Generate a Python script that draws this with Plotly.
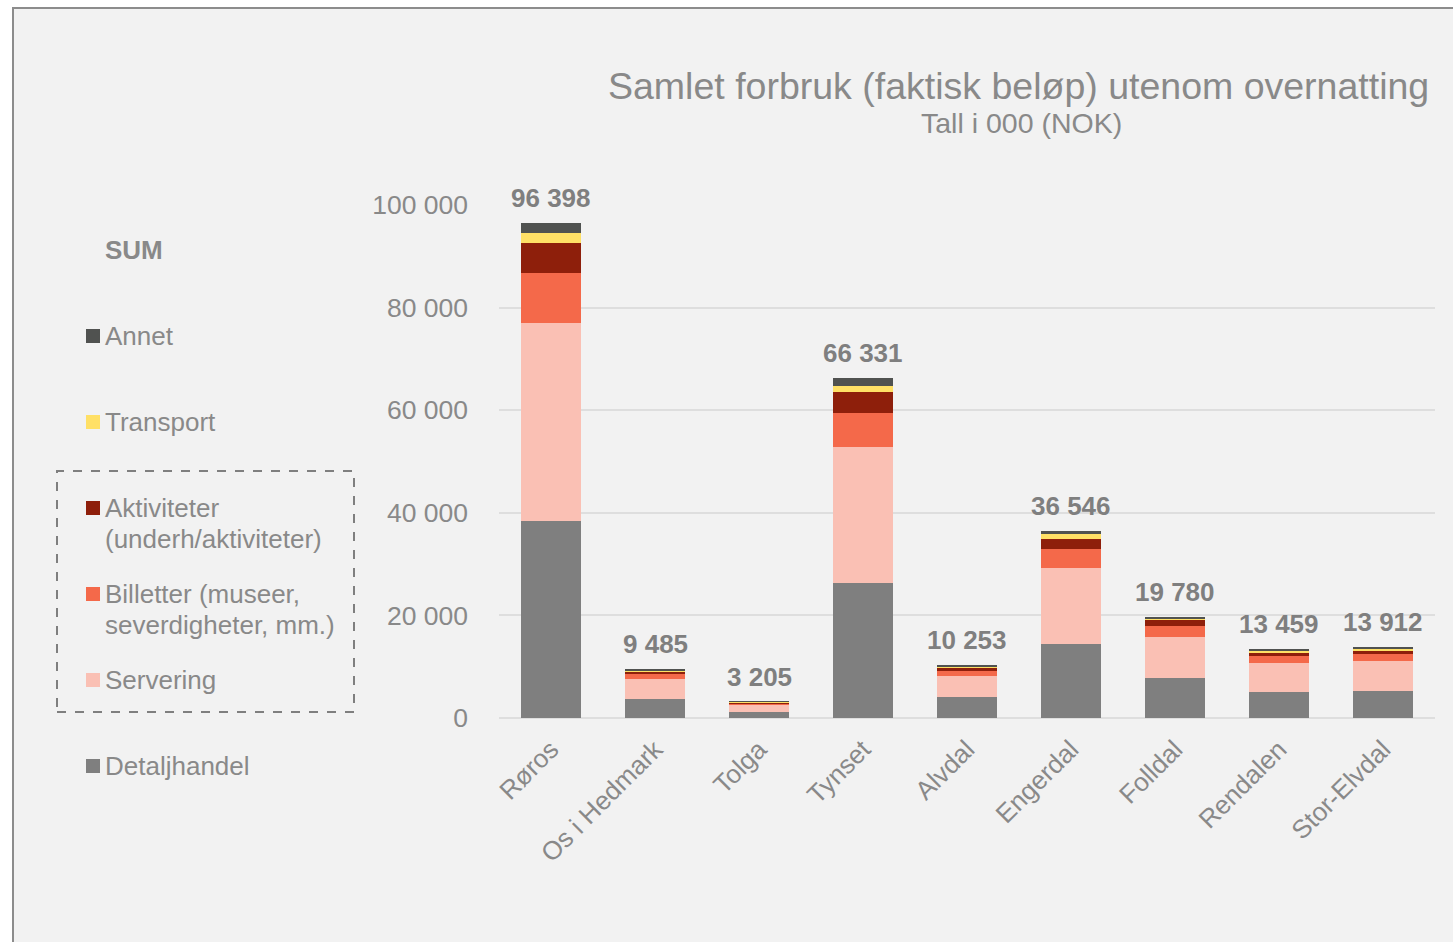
import plotly.graph_objects as go

# ---------------- data (values in NOK 000) ----------------
kommuner = ["Røros", "Os i Hedmark", "Tolga", "Tynset", "Alvdal", "Engerdal",
            "Folldal", "Rendalen", "Stor-Elvdal"]

detaljhandel = [38500, 3750, 1150, 26300, 4000, 14500, 7800, 5150, 5350]
servering    = [38570, 3900, 1400, 26560, 4100, 14700, 8000, 5500, 5700]
billetter    = [9690, 950, 300, 6620, 1150, 3650, 2050, 1400, 1450]
aktiviteter  = [5800, 500, 200, 4030, 550, 2140, 1200, 800, 670]
transport    = [1910, 200, 100, 1300, 250, 840, 400, 300, 320]
annet        = [1928, 185, 55, 1521, 203, 716, 330, 309, 422]

totals = [96398, 9485, 3205, 66331, 10253, 36546, 19780, 13459, 13912]

series_names = ["Detaljhandel", "Servering", "Billetter (museer, severdigheter, mm.)",
                "Aktiviteter (underh/aktiviteter)", "Transport", "Annet"]
series_values = [detaljhandel, servering, billetter, aktiviteter, transport, annet]
series_colors = ["#7f7f7f", "#fac0b4", "#f4694a", "#8e1f0b", "#ffe066", "#505250"]

y_ticks = [0, 20000, 40000, 60000, 80000, 100000]
y_tick_labels = ["0", "20 000", "40 000", "60 000", "80 000", "100 000"]

title_text = "Samlet forbruk (faktisk beløp) utenom overnatting"
subtitle_text = "Tall i 000 (NOK)"

# ---------------- layout helpers ----------------
W, H = 1453, 942
L, R, T, B = 499, 1435, 205, 718
TXT = "#898989"
FONT = "Liberation Sans, Arial, sans-serif"


def px(x):
    return (x - L) / (R - L)


def py(y):
    return (B - y) / (B - T)


fig = go.Figure()

for name, vals, col in zip(series_names, series_values, series_colors):
    fig.add_trace(go.Bar(x=kommuner, y=vals, name=name, marker_color=col,
                         marker_line_width=0, showlegend=False, hoverinfo="x+y+name"))

shapes = []
# outer frame
shapes.append(dict(type="rect", xref="paper", yref="paper",
                   x0=px(13), x1=px(1470), y0=py(960), y1=py(8),
                   line=dict(color="#8c8c8c", width=2), fillcolor="#f2f2f2",
                   layer="below"))
# dashed legend box
shapes.append(dict(type="rect", xref="paper", yref="paper",
                   x0=px(57), x1=px(354), y0=py(712), y1=py(471),
                   line=dict(color="#7f7f7f", width=2, dash="dash"),
                   fillcolor="rgba(0,0,0,0)"))

annotations = []
# totals above the bars
for k, v in zip(kommuner, totals):
    annotations.append(dict(text="<b>" + f"{v:,}".replace(",", " ") + "</b>",
                            x=k, y=v, xref="x", yref="y",
                            xanchor="center", yanchor="bottom", yshift=8,
                            showarrow=False,
                            font=dict(family=FONT, size=26, color="#7f7f7f")))
# title
annotations.append(dict(text=title_text, xref="paper", yref="paper",
                        x=px(1431), y=py(86), xanchor="right", yanchor="middle",
                        showarrow=False, font=dict(family=FONT, size=37.5, color=TXT)))
annotations.append(dict(text=subtitle_text, xref="paper", yref="paper",
                        x=px(1021), y=py(123), xanchor="center", yanchor="middle",
                        showarrow=False, font=dict(family=FONT, size=28.5, color=TXT)))

# legend (manual, top to bottom)
annotations.append(dict(text="<b>SUM</b>", xref="paper", yref="paper",
                        x=px(103), y=py(250), xanchor="left", yanchor="middle",
                        showarrow=False, font=dict(family=FONT, size=26, color=TXT)))

legend_rows = [
    ("Annet", [("Annet", 336)], "#505250"),
    ("Transport", [("Transport", 422)], "#ffe066"),
    ("Aktiviteter", [("Aktiviteter", 508), ("(underh/aktiviteter)", 539)], "#8e1f0b"),
    ("Billetter", [("Billetter (museer,", 594), ("severdigheter, mm.)", 625)], "#f4694a"),
    ("Servering", [("Servering", 680)], "#fac0b4"),
    ("Detaljhandel", [("Detaljhandel", 766)], "#7f7f7f"),
]
for _, lines, col in legend_rows:
    y0 = lines[0][1]
    shapes.append(dict(type="rect", xref="paper", yref="paper",
                       x0=px(86), x1=px(100), y0=py(y0 + 7), y1=py(y0 - 7),
                       line=dict(width=0), fillcolor=col))
    for txt, yy in lines:
        annotations.append(dict(text=txt, xref="paper", yref="paper",
                                x=px(103), y=py(yy), xanchor="left", yanchor="middle",
                                showarrow=False,
                                font=dict(family=FONT, size=26, color=TXT)))

fig.update_layout(
    width=W, height=H,
    margin=dict(l=L, r=W - R, t=T, b=H - B, pad=0),
    paper_bgcolor="white", plot_bgcolor="rgba(0,0,0,0)",
    barmode="stack", bargap=0.423,
    shapes=shapes, annotations=annotations,
    font=dict(family=FONT, color=TXT),
)
fig.update_yaxes(range=[0, 100000], tickvals=y_ticks, ticktext=y_tick_labels,
                 showgrid=True, gridcolor="#dedede", gridwidth=1.5,
                 zeroline=True, zerolinecolor="#dedede", zerolinewidth=1.5,
                 showline=False, ticks="", ticklabelstandoff=30,
                 tickfont=dict(family=FONT, size=26.5, color=TXT))
fig.update_xaxes(tickangle=-45, showline=False, ticks="", ticklabelstandoff=10,
                 tickfont=dict(family=FONT, size=26, color=TXT))

fig.write_html("out.html", config={"displayModeBar": False},
               post_script="document.body.style.margin='0';")
